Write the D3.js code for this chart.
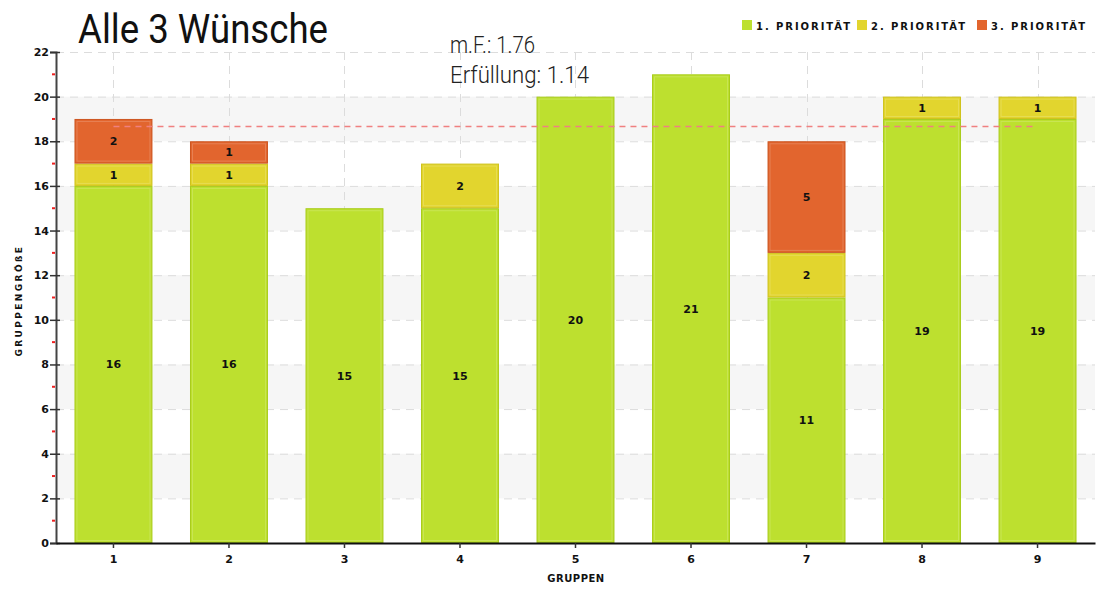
<!DOCTYPE html>
<html>
<head>
<meta charset="utf-8">
<script src="https://cdn.jsdelivr.net/npm/d3@7"></script>
<style>
  html, body { margin: 0; padding: 0; background: #fff; }
  svg { display: block; }
  .pix { font-family: "DejaVu Sans", sans-serif; font-weight: bold; }
</style>
</head>
<body>
<svg id="chart" width="1096" height="591"></svg>
<script>
// Group sizes per wish priority
const groups = ["1", "2", "3", "4", "5", "6", "7", "8", "9"];
const priority1 = [16, 16, 15, 15, 20, 21, 11, 19, 19];
const priority2 = [1, 1, 0, 2, 0, 0, 2, 1, 1];
const priority3 = [2, 1, 0, 0, 0, 0, 5, 0, 0];
const seriesNames = ["1. PRIORITÄT", "2. PRIORITÄT", "3. PRIORITÄT"];
const seriesColors = ["#bde02f", "#e2d52e", "#e2652e"];
const seriesStroke = ["#a9cc1c", "#cfc21c", "#cc5520"];
const yTicks = [0, 2, 4, 6, 8, 10, 12, 14, 16, 18, 20, 22];
const yMinorTicks = [1, 3, 5, 7, 9, 11, 13, 15, 17, 19, 21];
const chartTitle = "Alle 3 Wünsche";
const notes = ["m.F.: 1.76", "Erfüllung: 1.14"];

const svg = d3.select("#chart");
const margin = { left: 56, right: 1, top: 52, bottom: 48 };
const W = 1096, H = 591;

const x = d3.scaleBand().domain(groups)
  .range([margin.left, W - margin.right])
  .paddingInner(0.325).paddingOuter(0.16);
const y = d3.scaleLinear().domain([0, 22]).range([H - margin.bottom, margin.top]);

const rows = groups.map((g, i) => ({ g, vals: [priority1[i], priority2[i], priority3[i]] }));
const stack = d3.stack().keys([0, 1, 2]).value((d, k) => d.vals[k]);
const layers = stack(rows);

// alternating background bands
const bands = svg.append("g");
for (let v = 2; v < 22; v += 4) {
  bands.append("rect")
    .attr("x", margin.left).attr("width", W - margin.right - margin.left)
    .attr("y", y(v + 2)).attr("height", y(v) - y(v + 2))
    .attr("fill", "#f6f6f6");
}

// grid
const grid = svg.append("g").attr("stroke", "#dcdcdc").attr("stroke-dasharray", "8,6").attr("stroke-width", 1);
yTicks.filter(t => t > 0).forEach(t => {
  grid.append("line").attr("x1", margin.left).attr("x2", W - margin.right)
    .attr("y1", y(t) + 0.5).attr("y2", y(t) + 0.5);
});
groups.forEach(g => {
  const cx = Math.round(x(g) + x.bandwidth() / 2) + 0.5;
  grid.append("line").attr("x1", cx).attr("x2", cx)
    .attr("y1", y(22)).attr("y2", y(0));
});

// stacked bars
layers.forEach((layer, k) => {
  const gL = svg.append("g");
  layer.forEach((d, i) => {
    if (d[1] - d[0] <= 0) return;
    const bx = x(groups[i]), bw = x.bandwidth();
    const top = y(d[1]), bot = y(d[0]);
    gL.append("rect")
      .attr("x", bx + 0.5).attr("y", top + 0.5)
      .attr("width", bw - 1).attr("height", bot - top - 1)
      .attr("fill", seriesColors[k]).attr("stroke", seriesStroke[k]).attr("stroke-width", 1);
    gL.append("rect")
      .attr("x", bx + 2.5).attr("y", top + 2.5)
      .attr("width", bw - 5).attr("height", Math.max(0, bot - top - 5))
      .attr("fill", "none").attr("stroke", "#ffffff").attr("stroke-opacity", 0.18).attr("stroke-width", 1);
    gL.append("text").attr("class", "pix")
      .attr("x", bx + bw / 2).attr("y", (top + bot) / 2 + 4)
      .attr("text-anchor", "middle").attr("font-size", 11).attr("fill", "#111")
      .text(d[1] - d[0]);
  });
});

// average group size line
const totals = rows.map(r => d3.sum(r.vals));
const avg = d3.mean(totals);
svg.append("line")
  .attr("x1", x(groups[0]) + x.bandwidth() / 2)
  .attr("x2", x(groups[groups.length - 1]) + x.bandwidth() / 2)
  .attr("y1", y(avg)).attr("y2", y(avg))
  .attr("stroke", "#f08080").attr("stroke-width", 1.5).attr("stroke-dasharray", "6,5");

// y axis
const yAxis = svg.append("g").attr("transform", `translate(${margin.left},0)`)
  .call(d3.axisLeft(y).tickValues(yTicks).tickSize(6).tickFormat(d3.format("d")));
yAxis.select(".domain").attr("stroke", "#444").attr("stroke-width", 2);
yAxis.selectAll(".tick line").attr("x1", -6).attr("x2", 4).attr("stroke", "#333").attr("stroke-width", 1.5);
yAxis.selectAll(".tick text").attr("class", "pix").attr("font-size", 11).attr("fill", "#111").attr("x", -7);
yAxis.selectAll(".minor").data(yMinorTicks).enter().append("line")
  .attr("x1", -4).attr("x2", -1)
  .attr("y1", d => y(d)).attr("y2", d => y(d))
  .attr("stroke", "#ee2020").attr("stroke-width", 2);

// x axis
const xAxis = svg.append("g").attr("transform", `translate(0,${y(0)})`)
  .call(d3.axisBottom(x).tickSize(5).tickSizeOuter(0));
xAxis.select(".domain").attr("stroke", "#111").attr("stroke-width", 2);
xAxis.selectAll(".tick line").attr("stroke", "#333").attr("stroke-width", 1.5);
xAxis.selectAll(".tick text").attr("class", "pix").attr("font-size", 11).attr("fill", "#111").attr("dy", "1.1em");

// axis titles
svg.append("text").attr("class", "pix")
  .attr("x", (margin.left + W) / 2).attr("y", 582)
  .attr("text-anchor", "middle").attr("font-size", 10).attr("fill", "#111")
  .attr("letter-spacing", 0.5).text("GRUPPEN");
svg.append("text").attr("class", "pix")
  .attr("transform", `translate(22,${(y(0) + y(22)) / 2 + 4}) rotate(-90)`)
  .attr("text-anchor", "middle").attr("font-size", 9).attr("fill", "#111")
  .attr("letter-spacing", 0.5).attr("textLength", 110).attr("lengthAdjust", "spacing")
  .text("GRUPPENGRÖßE");

// title and notes
svg.append("text")
  .attr("x", 78).attr("y", 43)
  .attr("font-family", "Roboto, sans-serif").attr("font-weight", 400)
  .attr("font-size", 40).attr("fill", "#111")
  .attr("textLength", 250).attr("lengthAdjust", "spacingAndGlyphs")
  .text(chartTitle);
notes.forEach((t, i) => {
  svg.append("text")
    .attr("x", 450).attr("y", 53 + i * 30)
    .attr("font-family", "Roboto, sans-serif").attr("font-weight", 300)
    .attr("font-size", 23).attr("fill", "#222")
    .attr("textLength", i === 0 ? 85 : 139).attr("lengthAdjust", "spacingAndGlyphs")
    .text(t);
});

// legend
const legendX = [742, 857, 977];
seriesNames.forEach((n, k) => {
  svg.append("rect").attr("x", legendX[k]).attr("y", 20).attr("width", 10).attr("height", 10)
    .attr("fill", seriesColors[k]);
  svg.append("text").attr("class", "pix")
    .attr("x", legendX[k] + 14).attr("y", 30)
    .attr("font-size", 10).attr("fill", "#111")
    .attr("textLength", 94).attr("lengthAdjust", "spacing")
    .text(n);
});
</script>
</body>
</html>
